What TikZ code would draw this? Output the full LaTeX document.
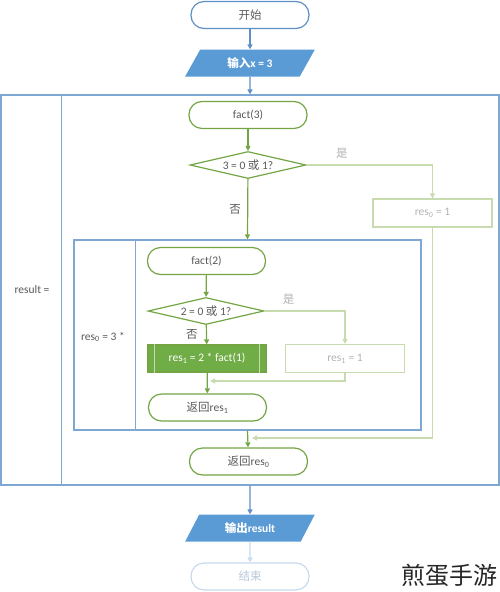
\documentclass[tikz,border=0pt]{standalone}
\usepackage{fontspec}
\setmainfont{Carlito}
\newfontfamily\cjk{Noto Sans CJK SC}
\usepackage{xcolor}
\usetikzlibrary{shapes.geometric, arrows.meta, positioning}

\definecolor{lineblue}{HTML}{5E8FC5}
\definecolor{boxblue}{HTML}{7FA7D3}
\definecolor{ioblue}{HTML}{5B9BD5}
\definecolor{endblue}{HTML}{C7DAEE}
\definecolor{endtxt}{HTML}{B7C7D9}
\definecolor{fgreen}{HTML}{74A545}
\definecolor{fillgreen}{HTML}{70AD47}
\definecolor{lightgreen}{HTML}{C8DBAE}
\definecolor{txtgray}{HTML}{595959}
\definecolor{lightgray}{HTML}{B3B3B3}

\tikzset{
  flow/.style={-{Triangle[length=5pt,width=5pt]}, line width=1.2pt},
  term/.style={draw, rounded corners=13pt, minimum width=118pt, minimum height=27pt,
    line width=1.2pt, fill=white, text=txtgray},
  io/.style={trapezium, trapezium left angle=66, trapezium right angle=114,
    trapezium stretches=true, minimum width=130pt, minimum height=27pt,
    fill=ioblue, text=white, font=\fontsize{11.5}{13}\selectfont\bfseries},
  dec/.style={diamond, draw=fgreen, line width=1.2pt, aspect=4.3, inner sep=0pt,
    minimum width=116pt, minimum height=27pt, text=txtgray},
  frame/.style={draw=boxblue, line width=1.3pt, inner sep=0pt},
  lightbox/.style={draw=lightgreen, line width=1.2pt, minimum width=119pt,
    minimum height=28pt, text=lightgray},
  proc/.style={draw=fgreen, fill=fillgreen, line width=1.2pt, minimum width=118pt,
    minimum height=27pt, text=white},
}

\begin{document}
\begin{tikzpicture}[x=1pt, y=-1pt, every node/.style={font=\fontsize{11.5}{13}\selectfont}]
  \useasboundingbox (0,0) rectangle (500,592);

  % outer and inner frames
  \node[frame, minimum width=498pt, minimum height=390pt] (outer) at (250,290) {};
  \draw[boxblue, line width=1.3pt] ([xshift=61pt]outer.north west) -- ([xshift=61pt]outer.south west);
  \node[text=txtgray] (resl) at (32,290) {result =};
  \node[frame, minimum width=347pt, minimum height=190pt] (inner) at (247.5,335) {};
  \draw[boxblue, line width=1.3pt] ([xshift=62pt]inner.north west) -- ([xshift=62pt]inner.south west);
  \node[text=txtgray] (res0l) at (103,337) {res\textsubscript{0} = 3 *};

  % nodes
  \node[term, draw=lineblue] (start) at (250,15) {{\cjk 开始}};
  \node[io] (in) at (250,63) {{\cjk 输入}x = 3};
  \node[term, draw=fgreen] (f3) at (248,115) {fact(3)};
  \node[dec] (d3) at (248,165) {3 = 0 {\cjk 或} 1?};
  \node[lightbox] (r0one) at (432.5,213) {res\textsubscript{0} = 1};
  \node[term, draw=fgreen] (f2) at (206.5,261) {fact(2)};
  \node[dec] (d2) at (206,311) {2 = 0 {\cjk 或} 1?};
  \node[proc] (r1) at (207,358.5) {res\textsubscript{1} = 2 * fact(1)};
  \draw[lightgreen, line width=1pt] ([xshift=7pt]r1.north west) -- ([xshift=7pt]r1.south west);
  \draw[lightgreen, line width=1pt] ([xshift=-7pt]r1.north east) -- ([xshift=-7pt]r1.south east);
  \node[lightbox] (r1one) at (345,358.5) {res\textsubscript{1} = 1};
  \node[term, draw=fgreen] (ret1) at (207.5,407.5) {{\cjk 返回}res\textsubscript{1}};
  \node[term, draw=fgreen] (ret0) at (248.5,461.5) {{\cjk 返回}res\textsubscript{0}};
  \node[io] (out) at (250,528) {{\cjk 输出}result};
  \node[term, draw=endblue, text=endtxt] (end) at (250,576.5) {{\cjk 结束}};
  \coordinate (m0) at (252,438);
  \coordinate (m1) at (210,381);
  \node[font=\cjk\fontsize{24}{24}\selectfont, text=black!85] (mark) at (449,575) {煎蛋手游};

  % connectors
  \draw[flow, lineblue] (start) -- (in);
  \draw[flow, lineblue] (in) -- (outer.north);
  \draw[flow, fgreen] (f3) -- (d3);
  \draw[flow, lightgreen] (d3.east) -| (r0one.north) node[pos=0.14, above=3pt, text=lightgray] {{\cjk 是}};
  \draw[flow, fgreen] (d3) -- (inner.north) node[midway, left=3pt, text=txtgray] {{\cjk 否}};
  \draw[flow, lightgreen] (r0one.south) |- (m0);
  \draw[flow, fgreen] (f2) -- (d2);
  \draw[flow, lightgreen] (d2.east) -| (r1one.north) node[pos=0.15, above=3pt, text=lightgray] {{\cjk 是}};
  \draw[flow, fgreen] (d2) -- (r1) node[midway, left=5pt, text=txtgray] {{\cjk 否}};
  \draw[flow, fgreen] (r1) -- (ret1);
  \draw[flow, lightgreen] (r1one.south) |- (m1);
  \draw[flow, fgreen] (inner.south) -- (ret0);
  \draw[flow, lineblue] (outer.south) -- (out);
  \draw[flow, endblue] (out) -- (end);
\end{tikzpicture}
\end{document}
